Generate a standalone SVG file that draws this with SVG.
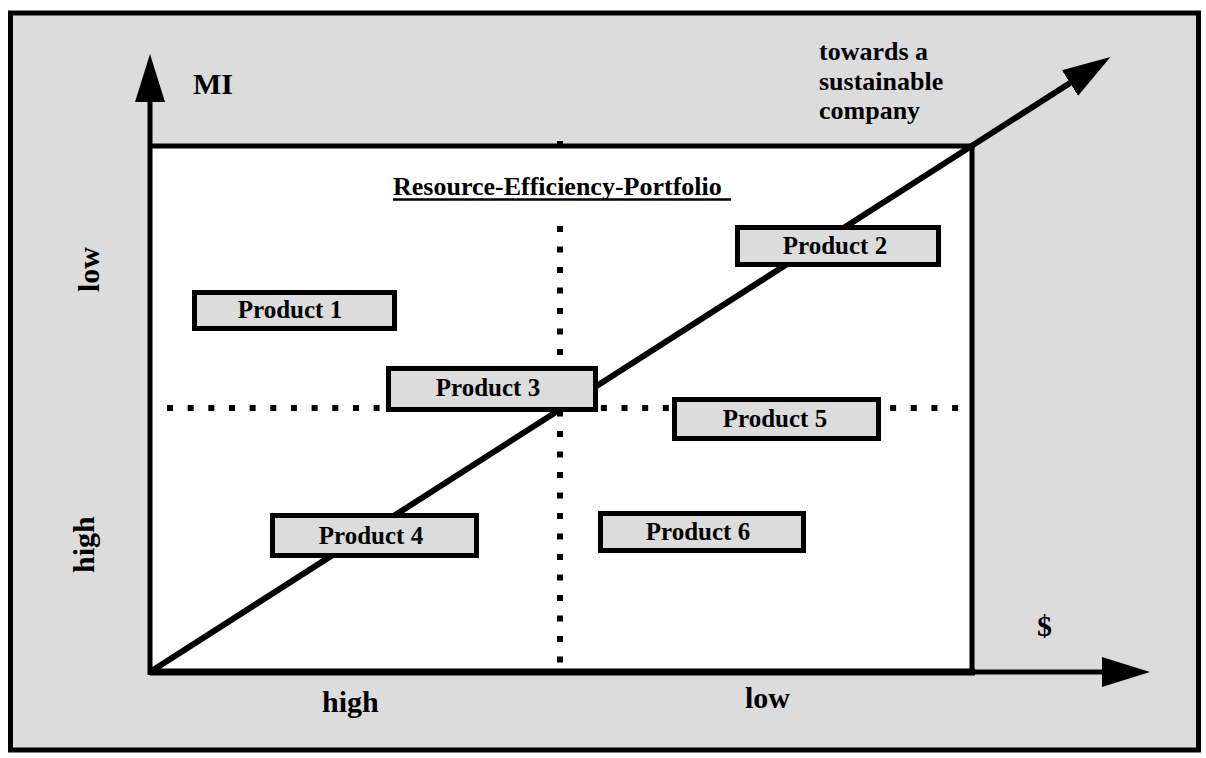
<svg xmlns="http://www.w3.org/2000/svg" width="1206" height="758" viewBox="0 0 1206 758">
<style>
text{font-family:"Liberation Serif","Times New Roman",serif;font-weight:bold;fill:#000}
.prod rect{fill:#dcdcdc;stroke:#000;stroke-width:5}
.prod text{font-size:25px;text-anchor:middle}
.axis{font-size:30px}
.dot{stroke:#000;stroke-width:6;fill:none}
.ax{stroke:#000;fill:none}
</style>
<defs>
<marker id="ah" markerUnits="userSpaceOnUse" markerWidth="50" markerHeight="32" refX="0" refY="15" orient="auto" viewBox="0 0 50 30">
<path d="M0,0 L48,15 L0,30 z" fill="#000"/>
</marker>
</defs>
<rect x="10.5" y="13" width="1188" height="737" fill="#dcdcdc" stroke="#000" stroke-width="5"/>
<rect x="150" y="146" width="822" height="526" fill="#fff"/>
<g id="grid">
<line class="dot" x1="560" y1="226" x2="560" y2="663" stroke-dasharray="6 14.5"/>
<line class="dot" x1="167" y1="408" x2="960" y2="408" stroke-dasharray="6 14.66"/>
<rect x="557" y="141" width="6" height="3" fill="#000"/>
</g>
<g id="connectors">
<line class="ax" x1="150" y1="146" x2="974.5" y2="146" stroke-width="5"/>
<line class="ax" x1="972" y1="146" x2="972" y2="672" stroke-width="5"/>
<line class="ax" x1="150" y1="672" x2="975" y2="672" stroke-width="7"/>
<line class="ax" x1="150" y1="675" x2="150" y2="102" stroke-width="5" marker-end="url(#ah)"/>
<line class="ax" x1="972" y1="672" x2="1102" y2="672" stroke-width="5" marker-end="url(#ah)"/>
<line class="ax" x1="150" y1="672" x2="1070" y2="83" stroke-width="6" marker-end="url(#ah)"/>
</g>
<g id="title">
<text x="393" y="195" font-size="26">Resource-Efficiency-Portfolio</text>
<line x1="393" y1="199.5" x2="731" y2="199.5" stroke="#000" stroke-width="2.5"/>
</g>
<g id="product1" class="prod"><rect x="194.5" y="292.5" width="200" height="36"/><text x="290" y="318">Product 1</text></g>
<g id="product2" class="prod"><rect x="737.5" y="227.5" width="201" height="37"/><text x="835" y="254">Product 2</text></g>
<g id="product3" class="prod"><rect x="388.5" y="368.5" width="207" height="41"/><text x="488" y="396">Product 3</text></g>
<g id="product4" class="prod"><rect x="272.5" y="515.5" width="204" height="40"/><text x="371" y="544">Product 4</text></g>
<g id="product5" class="prod"><rect x="674.5" y="399.5" width="204" height="39"/><text x="775" y="427">Product 5</text></g>
<g id="product6" class="prod"><rect x="600.5" y="513.5" width="203" height="37"/><text x="698" y="540">Product 6</text></g>
<g id="label-mi"><text class="axis" x="193" y="94">MI</text></g>
<g id="label-dollar"><text class="axis" x="1037" y="636">$</text></g>
<g id="label-high-x"><text class="axis" x="322" y="712">high</text></g>
<g id="label-low-x"><text class="axis" x="745" y="708">low</text></g>
<g id="label-low-y"><text class="axis" transform="translate(99,292) rotate(-90)">low</text></g>
<g id="label-high-y"><text class="axis" transform="translate(94,573) rotate(-90)">high</text></g>
<g id="label-towards"><text x="819" y="60" font-size="26">towards a</text><text x="819" y="90" font-size="26">sustainable</text><text x="819" y="119" font-size="26">company</text></g>
</svg>
